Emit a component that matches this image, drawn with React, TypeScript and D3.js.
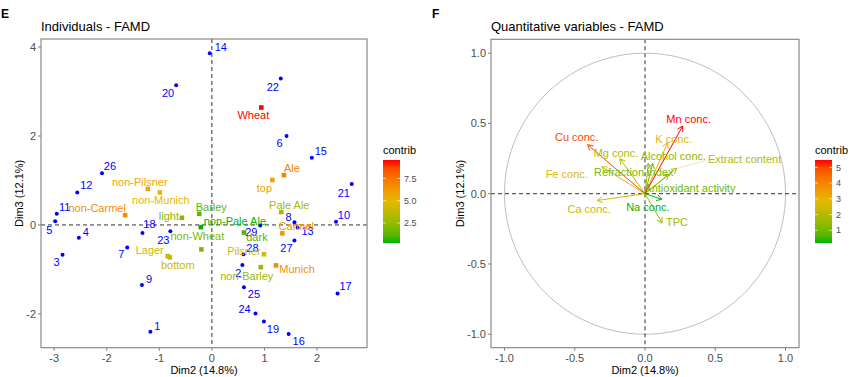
import React from "react";
import * as d3 from "d3";

// ---------- Data: Individuals (panel E) ----------
const indNames = ["1","2","3","4","5","6","7","8","9","10","11","12","13","14","15","16","17","18","19","20","21","22","23","24","25","26","27","28","29"];
const indX = [-1.17, 0.58, -2.84, -2.53, -2.98, 1.42, -1.61, 1.57, -1.33, 2.36, -2.95, -2.56, 1.63, -0.04, 1.90, 1.46, 2.39, -1.32, 0.99, -0.68, 2.66, 1.31, -0.79, 0.83, 0.61, -2.09, 1.57, 0.60, 0.92];
const indY = [-2.40, -0.90, -0.67, -0.29, 0.08, 2.00, -0.51, 0.06, -1.35, 0.07, 0.25, 0.73, -0.06, 3.86, 1.51, -2.45, -1.54, -0.18, -2.17, 3.14, 0.92, 3.29, -0.14, -1.99, -1.40, 1.16, -0.35, -0.66, -0.015];

// ---------- Data: Qualitative categories (panel E) ----------
const catNames = ["Wheat","Ale","top","non-Pilsner","non-Munich","non-Carmel","Barley","light","non-Pale Ale","non-Wheat","Pale Ale","Carmel","dark","Pilsner","Munich","non-Barley","Lager","bottom"];
const catX = [0.94, 1.37, 1.15, -1.22, -0.99, -1.65, -0.24, -0.57, -0.21, -0.20, 1.32, 1.34, 0.61, 0.99, 1.22, 0.93, -0.84, -0.80];
const catY = [2.64, 1.12, 1.01, 0.81, 0.73, 0.22, 0.25, 0.16, -0.05, -0.55, 0.29, -0.19, -0.17, -0.66, -0.91, -0.95, -0.70, -0.73];
const catContrib = [9.56, 7.0, 5.8, 5.6, 5.0, 6.6, 1.2, 2.2, 0.25, 2.0, 3.0, 6.3, 1.0, 4.3, 6.5, 2.8, 4.2, 4.0];

// ---------- Data: Quantitative variables (panel F) ----------
const varNames = ["Mn conc.","Cu conc.","K conc.","Mg conc.","Alcohol conc.","Extract content","Refraction index","Fe conc.","Antioxidant activity","Ca conc.","Na conc.","TPC"];
const varX = [0.268, -0.408, 0.161, -0.178, 0.024, 0.225, 0.055, -0.308, 0.17, -0.34, 0.12, 0.121];
const varY = [0.482, 0.349, 0.363, 0.249, 0.216, 0.18, 0.216, 0.192, 0.14, -0.048, -0.04, -0.208];
const varContrib = [5.47, 5.0, 3.0, 2.0, 1.4, 2.0, 1.1, 2.6, 1.0, 2.4, 0.19, 1.6];

// ---------- Tick labels ----------
const leftXTicks = [-3, -2, -1, 0, 1, 2];
const leftYTicks = [-2, 0, 2, 4];
const rightTicks = [-1.0, -0.5, 0.0, 0.5, 1.0];
const leftLegendTicks = [2.5, 5.0, 7.5];
const rightLegendTicks = [1, 2, 3, 4, 5];

// ---------- Layout (label nudges in px, not data) ----------
const indLabelOff: [number, number][] = [
  [7, -6], [-4, 8], [-6, 7], [7, -6], [-6, 9], [-7, 7], [-6, 7], [-6, -5], [7, -6], [8, -7],
  [8, -7], [9, -7], [10, 4], [11, -6], [9, -7], [10, 7], [8, -7], [7, -9], [9, 8], [-8, 8],
  [-8, 9], [-8, 9], [-7, 9], [-11, -4], [10, 7], [8, -7], [-8, 8], [9, -6], [-9, 7],
];
const catLabelOff: [number, number][] = [
  [-8, 8], [8, -7], [-8, 8], [-8, -7], [1, 8], [-28, -7], [12, -7], [-13, -2], [34, -6],
  [-4, -13], [8, -7], [14, -7], [13, 5], [-20, -3], [21, 4], [-14, 9], [-18, -6], [8, 8],
];
const varLabelOff: [number, number][] = [
  [6, -7], [-11, -8], [6, -4], [-4, -6], [25, -7], [68, -9], [-19, 9], [-35, 7], [21, 14], [-8, 9], [-14, 8], [15, -1],
];

const FONT = "'Liberation Sans', Arial, Helvetica, sans-serif";
const TICK_COL = "#4D4D4D";
const BORDER = "#808080";

const gradStops = ["#00B400", "#E5B900", "#FF0000"];
function makeColor(min: number, max: number) {
  return d3
    .scaleLinear<string>()
    .domain([min, (min + max) / 2, max])
    .range(gradStops)
    .interpolate(d3.interpolateLab);
}

function Legend({ x, y, min, max, ticks, id, fmt }: { x: number; y: number; min: number; max: number; ticks: number[]; id: string; fmt: (v: number) => string }) {
  const h = 83;
  const w = 17;
  const ys = d3.scaleLinear().domain([min, max]).range([y + h, y]);
  const col = makeColor(min, max);
  const stops = d3.range(0, 11).map((i) => min + ((max - min) * i) / 10);
  return (
    <g>
      <defs>
        <linearGradient id={id} x1="0" y1="1" x2="0" y2="0">
          {stops.map((v, i) => (
            <stop key={i} offset={`${i * 10}%`} stopColor={col(v)} />
          ))}
        </linearGradient>
      </defs>
      <text x={x} y={y - 6} fontSize={11} fontFamily={FONT} fill="#000">contrib</text>
      <rect x={x} y={y} width={w} height={h} fill={`url(#${id})`} />
      {ticks.map((t) => (
        <g key={t}>
          <line x1={x} x2={x + 3} y1={ys(t)} y2={ys(t)} stroke="#fff" strokeOpacity={0.6} />
          <line x1={x + w - 3} x2={x + w} y1={ys(t)} y2={ys(t)} stroke="#fff" strokeOpacity={0.6} />
          <text x={x + w + 4} y={ys(t)} dy="0.35em" fontSize={9} fontFamily={FONT} fill={TICK_COL}>{fmt(t)}</text>
        </g>
      ))}
    </g>
  );
}

function arrowHead(x1: number, y1: number, x2: number, y2: number, len = 6) {
  const a = Math.atan2(y2 - y1, x2 - x1);
  const sp = Math.PI / 6;
  const p1 = [x2 - len * Math.cos(a - sp), y2 - len * Math.sin(a - sp)];
  const p2 = [x2 - len * Math.cos(a + sp), y2 - len * Math.sin(a + sp)];
  return `M${p1[0]},${p1[1]}L${x2},${y2}L${p2[0]},${p2[1]}`;
}

function PanelE() {
  const x = d3.scaleLinear().domain([-3.25, 2.95]).range([41, 367]);
  const y = d3.scaleLinear().domain([-2.76, 4.18]).range([347.7, 39]);
  const [x0, x1] = x.range();
  const [y0, y1] = y.range();
  const catMin = d3.min(catContrib)!;
  const catMax = d3.max(catContrib)!;
  const col = makeColor(catMin, catMax);
  return (
    <g>
      <text x={1} y={18} fontSize={12} fontWeight="bold" fontFamily={FONT}>E</text>
      <text x={41} y={31} fontSize={13} fontFamily={FONT}>Individuals - FAMD</text>
      <rect x={x0} y={y1} width={x1 - x0} height={y0 - y1} fill="#fff" />
      <line x1={x(0)} x2={x(0)} y1={y1} y2={y0} stroke="#333" strokeDasharray="4,3" />
      <line x1={x0} x2={x1} y1={y(0)} y2={y(0)} stroke="#333" strokeDasharray="4,3" />
      {indX.map((v, i) => (
        <circle key={"p" + i} cx={x(v)} cy={y(indY[i])} r={2} fill="#0000FF" />
      ))}
      {indX.map((v, i) => (
        <text key={"t" + i} x={x(v) + indLabelOff[i][0]} y={y(indY[i]) + indLabelOff[i][1]} dy="0.35em" textAnchor="middle" fontSize={11} fontFamily={FONT} fill="#0000FF">{indNames[i]}</text>
      ))}
      {catX.map((v, i) => (
        <rect key={"c" + i} x={x(v) - 2.3} y={y(catY[i]) - 2.3} width={4.6} height={4.6} fill={col(catContrib[i])} />
      ))}
      {catX.map((v, i) => (
        <text key={"ct" + i} x={x(v) + catLabelOff[i][0]} y={y(catY[i]) + catLabelOff[i][1]} dy="0.35em" textAnchor="middle" fontSize={11} fontFamily={FONT} fill={col(catContrib[i])}>{catNames[i]}</text>
      ))}
      <rect x={x0} y={y1} width={x1 - x0} height={y0 - y1} fill="none" stroke={BORDER} strokeWidth={1.1} />
      {leftXTicks.map((t) => (
        <g key={t}>
          <line x1={x(t)} x2={x(t)} y1={y0} y2={y0 + 3} stroke={BORDER} />
          <text x={x(t)} y={y0 + 14} textAnchor="middle" fontSize={11} fontFamily={FONT} fill={TICK_COL}>{t}</text>
        </g>
      ))}
      {leftYTicks.map((t) => (
        <g key={t}>
          <line x1={x0 - 3} x2={x0} y1={y(t)} y2={y(t)} stroke={BORDER} />
          <text x={x0 - 5} y={y(t)} dy="0.35em" textAnchor="end" fontSize={11} fontFamily={FONT} fill={TICK_COL}>{t}</text>
        </g>
      ))}
      <text x={(x0 + x1) / 2} y={374} textAnchor="middle" fontSize={11} fontFamily={FONT}>Dim2 (14.8%)</text>
      <text transform={`translate(23,${(y0 + y1) / 2}) rotate(-90)`} textAnchor="middle" fontSize={11} fontFamily={FONT}>Dim3 (12.1%)</text>
      <Legend x={383} y={160} min={catMin} max={catMax} ticks={leftLegendTicks} id="gradE" fmt={(v) => v.toFixed(1)} />
    </g>
  );
}

function PanelF() {
  const x = d3.scaleLinear().domain([-1.096, 1.096]).range([491, 799]);
  const y = d3.scaleLinear().domain([-1.096, 1.099]).range([347.7, 39.3]);
  const [x0, x1] = x.range();
  const [y0, y1] = y.range();
  const vMin = d3.min(varContrib)!;
  const vMax = d3.max(varContrib)!;
  const col = makeColor(vMin, vMax);
  const circle = d3.range(0, 361, 2).map((a) => [x(Math.cos((a * Math.PI) / 180)), y(Math.sin((a * Math.PI) / 180))] as [number, number]);
  const line = d3.line();
  // order so that larger contributions draw on top
  const order = d3.range(varNames.length).sort((a, b) => varContrib[a] - varContrib[b]);
  const ox = x(0);
  const oy = y(0);
  return (
    <g>
      <text x={432} y={18} fontSize={12} fontWeight="bold" fontFamily={FONT}>F</text>
      <text x={491} y={31} fontSize={13} fontFamily={FONT}>Quantitative variables - FAMD</text>
      <rect x={x0} y={y1} width={x1 - x0} height={y0 - y1} fill="#fff" />
      <path d={line(circle)!} fill="none" stroke="#BEBEBE" strokeWidth={1} />
      <line x1={ox} x2={ox} y1={y1} y2={y0} stroke="#333" strokeDasharray="4,3" />
      <line x1={x0} x2={x1} y1={oy} y2={oy} stroke="#333" strokeDasharray="4,3" />
      {/* connector for Extract content label */}
      <line x1={x(varX[5])} y1={y(varY[5])} x2={x(varX[5]) + 30} y2={y(varY[5]) - 8} stroke={col(varContrib[5])} strokeWidth={0.5} strokeOpacity={0.6} />
      {order.map((i) => {
        const tx = x(varX[i]);
        const ty = y(varY[i]);
        const c = col(varContrib[i]);
        return (
          <g key={"a" + i}>
            <line x1={ox} y1={oy} x2={tx} y2={ty} stroke={c} strokeWidth={1} />
            <path d={arrowHead(ox, oy, tx, ty)} fill="none" stroke={c} strokeWidth={1} />
          </g>
        );
      })}
      {varNames.map((n, i) => (
        <text key={"vt" + i} x={x(varX[i]) + varLabelOff[i][0]} y={y(varY[i]) + varLabelOff[i][1]} dy="0.35em" textAnchor="middle" fontSize={11} fontFamily={FONT} fill={col(varContrib[i])}>{n}</text>
      ))}
      <rect x={x0} y={y1} width={x1 - x0} height={y0 - y1} fill="none" stroke={BORDER} strokeWidth={1.1} />
      {rightTicks.map((t) => (
        <g key={"x" + t}>
          <line x1={x(t)} x2={x(t)} y1={y0} y2={y0 + 3} stroke={BORDER} />
          <text x={x(t)} y={y0 + 14} textAnchor="middle" fontSize={11} fontFamily={FONT} fill={TICK_COL}>{t.toFixed(1)}</text>
        </g>
      ))}
      {rightTicks.map((t) => (
        <g key={"y" + t}>
          <line x1={x0 - 3} x2={x0} y1={y(t)} y2={y(t)} stroke={BORDER} />
          <text x={x0 - 5} y={y(t)} dy="0.35em" textAnchor="end" fontSize={11} fontFamily={FONT} fill={TICK_COL}>{t.toFixed(1)}</text>
        </g>
      ))}
      <text x={(x0 + x1) / 2} y={374} textAnchor="middle" fontSize={11} fontFamily={FONT}>Dim2 (14.8%)</text>
      <text transform={`translate(464,${(y0 + y1) / 2}) rotate(-90)`} textAnchor="middle" fontSize={11} fontFamily={FONT}>Dim3 (12.1%)</text>
      <Legend x={815} y={160} min={vMin} max={vMax} ticks={rightLegendTicks} id="gradF" fmt={(v) => String(v)} />
    </g>
  );
}

export default function App() {
  return (
    <svg width={850} height={377} style={{ position: "absolute", left: 0, top: 0, background: "#fff" }}>
      <rect width={850} height={377} fill="#fff" />
      <PanelE />
      <PanelF />
    </svg>
  );
}
